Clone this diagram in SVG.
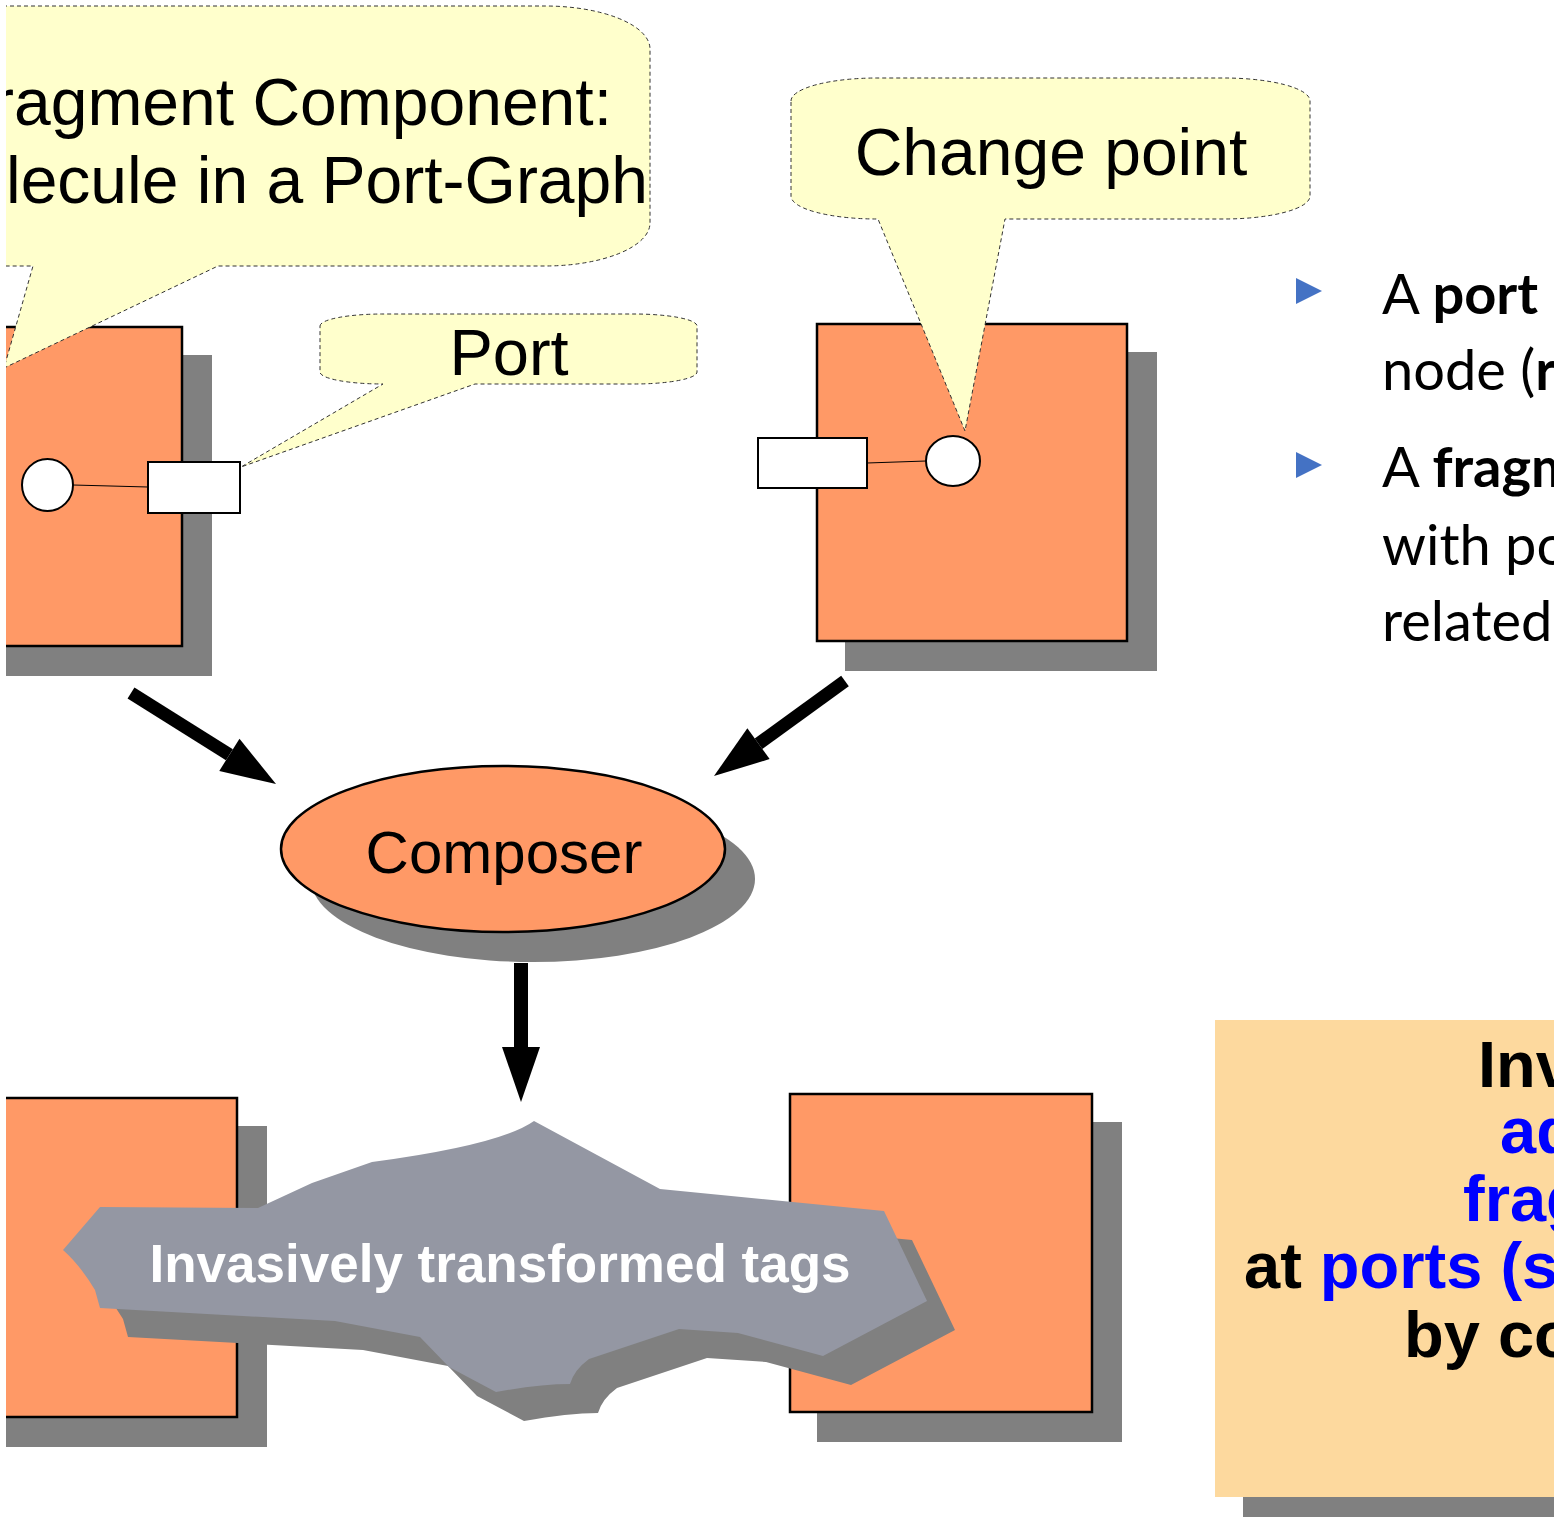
<svg xmlns="http://www.w3.org/2000/svg" width="1559" height="1517" viewBox="0 0 1559 1517">
  <style>
    .box { fill: #FF9966; stroke: #000; stroke-width: 2.5; }
    .shadow { fill: #808080; }
    .port { fill: #fff; stroke: #000; stroke-width: 2; }
    .wire { stroke: #000; stroke-width: 1; fill: none; }
    .callout { fill: #FFFFCC; stroke: #333; stroke-width: 1; stroke-dasharray: 4 3; }
    .ctext { font-family: "Liberation Sans", Arial, sans-serif; font-size: 65px; fill: #000; }
    .big { font-size: 66px; }
    .label { font-size: 60px; }
    .arrow { stroke: #000; stroke-width: 13; fill: none; }
    .bullet { fill: #4472C4; }
    .btext { font-family: Lato, "Open Sans", sans-serif; font-size: 56px; fill: #000; }
    .b { font-weight: bold; }
    .note { font-family: "Liberation Sans", Arial, sans-serif; font-size: 65px; font-weight: bold; fill: #000; }
    .blue { fill: #0000FF; }
  </style>
  <defs>
    <clipPath id="page">
      <rect x="6" y="0" width="1548" height="1517"/>
    </clipPath>
    <marker id="head" markerUnits="userSpaceOnUse" markerWidth="56" markerHeight="38" refX="0" refY="19" orient="auto" overflow="visible">
      <path d="M0,0 L55,19 L0,38 Z" fill="#000"/>
    </marker>
  </defs>
  <rect width="1559" height="1517" fill="#fff"/>
  <g clip-path="url(#page)">
    <!-- upper left fragment -->
    <g id="fragment-a">
      <rect class="shadow" x="-100" y="355" width="312" height="321"/>
      <rect class="box" x="-100" y="327" width="282" height="319"/>
      <line class="wire" x1="73" y1="485" x2="148" y2="487"/>
      <ellipse class="port" cx="47.5" cy="485" rx="25.5" ry="26"/>
      <rect class="port" x="148" y="462" width="92" height="51"/>
    </g>
    <!-- upper right fragment -->
    <g id="fragment-b">
      <rect class="shadow" x="845" y="352" width="312" height="319"/>
      <rect class="box" x="817" y="324" width="310" height="317"/>
      <line class="wire" x1="867" y1="463" x2="926" y2="461"/>
      <rect class="port" x="758" y="438" width="109" height="50"/>
      <ellipse class="port" cx="953" cy="461" rx="27" ry="25"/>
    </g>
    <!-- callouts -->
    <g id="callout-fragment">
      <path class="callout" d="M-200,6 L545,6 A105,43 0 0 1 650,49 L650,223 A105,43 0 0 1 545,266 L218,266 L4,368 L33,266 L-200,266 Z"/>
      <text class="ctext big" x="612" y="125" text-anchor="end">ragment Component:</text>
      <text class="ctext big" x="648" y="203" text-anchor="end">lecule in a Port-Graph</text>
    </g>
    <g id="callout-port">
      <path class="callout" d="M320,326 A63,12 0 0 1 383,314 L634,314 A63,12 0 0 1 697,326 L697,372 A63,12 0 0 1 634,384 L475,384 L241,467 L383,384 A63,12 0 0 1 320,372 Z"/>
      <text class="ctext" x="509" y="375" text-anchor="middle">Port</text>
    </g>
    <g id="callout-change">
      <path class="callout" d="M791,101 A86,23 0 0 1 877,78 L1224,78 A86,23 0 0 1 1310,101 L1310,196 A86,23 0 0 1 1224,219 L1005,219 L965,431 L878,219 L877,219 A86,23 0 0 1 791,196 Z"/>
      <text class="ctext big" x="1051" y="175" text-anchor="middle">Change point</text>
    </g>
    <!-- composer -->
    <g id="composer">
      <ellipse class="shadow" cx="533" cy="879" rx="222" ry="83"/>
      <ellipse class="box" cx="503" cy="849" rx="222" ry="83" stroke-width="2"/>
      <text class="ctext label" x="504" y="873" text-anchor="middle">Composer</text>
    </g>
    <!-- lower fragments -->
    <g id="fragment-a2">
      <rect class="shadow" x="-100" y="1126" width="367" height="321"/>
      <rect class="box" x="-100" y="1098" width="337" height="319"/>
    </g>
    <g id="fragment-b2">
      <rect class="shadow" x="817" y="1122" width="305" height="320"/>
      <rect class="box" x="790" y="1094" width="302" height="318"/>
    </g>
    <!-- transformed tags blob -->
    <g id="tags">
      <path class="shadow" transform="translate(28,29)" d="M63,1250 L100,1207 L258,1208 L312,1183 L372,1162 Q500,1145 534,1121 L660,1189 L884,1211 L927,1301 L823,1356 L738,1333 L679,1329 L589,1359 Q574,1370 570,1384 Q540,1384 496,1392 L449,1367 L420,1337 L335,1321 L100,1308 L95,1290 Q80,1265 63,1250 Z"/>
      <path fill="#9497A3" d="M63,1250 L100,1207 L258,1208 L312,1183 L372,1162 Q500,1145 534,1121 L660,1189 L884,1211 L927,1301 L823,1356 L738,1333 L679,1329 L589,1359 Q574,1370 570,1384 Q540,1384 496,1392 L449,1367 L420,1337 L335,1321 L100,1308 L95,1290 Q80,1265 63,1250 Z"/>
      <text x="500" y="1282" text-anchor="middle" font-family="'Liberation Sans', Arial, sans-serif" font-size="53" font-weight="bold" fill="#fff">Invasively transformed tags</text>
    </g>
    <!-- connectors -->
    <g id="connectors">
      <line class="arrow" x1="131" y1="693" x2="229.4" y2="754.8" marker-end="url(#head)"/>
      <line class="arrow" x1="845" y1="681" x2="758.5" y2="743.7" marker-end="url(#head)"/>
      <line class="arrow" x1="521" y1="963" x2="521" y2="1047" style="stroke-width:14" marker-end="url(#head)"/>
    </g>
    <!-- bullet text -->
    <g id="bullets">
      <path class="bullet" d="M1296,278 L1322,291 L1296,304 Z"/>
      <path class="bullet" d="M1296,452 L1322,465 L1296,478 Z"/>
      <text class="btext" x="1382" y="314">A <tspan class="b">port</tspan></text>
      <text class="btext" x="1382" y="390">node (<tspan class="b">r</tspan></text>
      <text class="btext" x="1382" y="487">A <tspan class="b">fragm</tspan></text>
      <text class="btext" x="1382" y="565">with po</text>
      <text class="btext" x="1382" y="641">related</text>
    </g>
    <!-- summary note -->
    <g id="note">
      <rect class="shadow" x="1243" y="1048" width="400" height="480"/>
      <rect x="1215" y="1020" width="400" height="477" fill="#FDD99E"/>
      <text class="note" x="1478" y="1087">Inv</text>
      <text class="note blue" x="1500" y="1153">ad</text>
      <text class="note blue" x="1463" y="1221">frag</text>
      <text class="note" x="1244" y="1288">at <tspan class="blue">ports (s</tspan></text>
      <text class="note" x="1404" y="1357">by co</text>
    </g>
  </g>
</svg>
